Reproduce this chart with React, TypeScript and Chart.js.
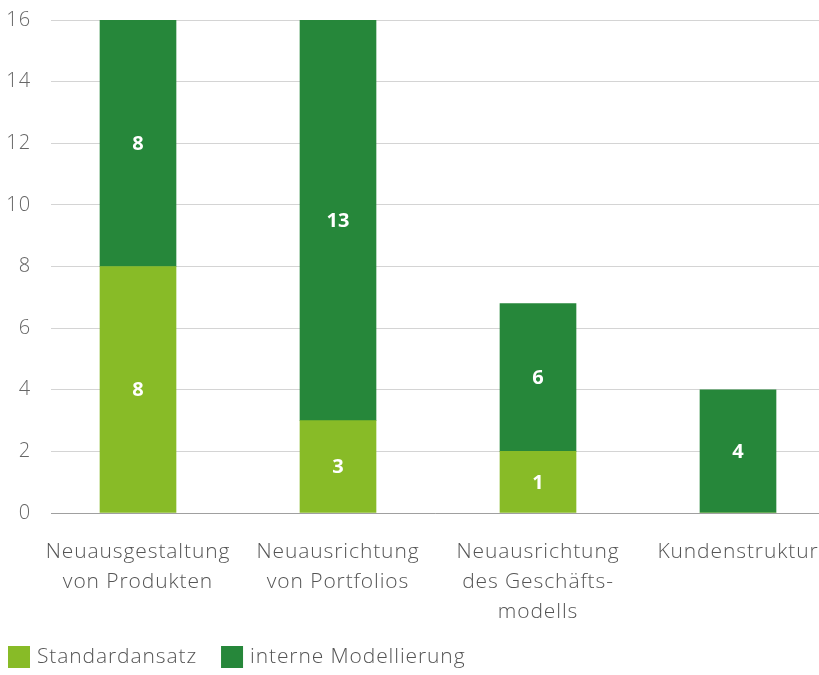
import React, { useEffect, useRef } from "react";
import { Chart, registerables } from "chart.js";

Chart.register(...registerables);

const categories: string[][] = [
  ["Neuausgestaltung", "von Produkten"],
  ["Neuausrichtung", "von Portfolios"],
  ["Neuausrichtung", "des Geschäfts-", "modells"],
  ["Kundenstruktur"],
];
// bar heights
const standardValues = [8, 3, 2, 0];
const interneValues = [8, 13, 4.8, 4];
// value labels printed on the bars
const standardLabels = ["8", "3", "1", ""];
const interneLabels = ["8", "13", "6", "4"];
const seriesNames = ["Standardansatz", "interne Modellierung"];
const yTicks = [0, 2, 4, 6, 8, 10, 12, 14, 16];

const LIGHT = "#88BB27";
const DARK = "#26873A";
const FONT = "'Open Sans', 'Noto Sans', sans-serif";
const SPACING = "0.9px";

const spacingPlugin = {
  id: "spacing",
  beforeUpdate(chart: any) {
    chart.ctx.letterSpacing = SPACING;
  },
  beforeLayout(chart: any) {
    chart.ctx.letterSpacing = SPACING;
  },
  beforeDraw(chart: any) {
    chart.ctx.letterSpacing = SPACING;
  },
};

const valueLabelPlugin = {
  id: "valueLabels",
  afterDatasetsDraw(chart: any) {
    const ctx = chart.ctx;
    const all = [standardLabels, interneLabels];
    ctx.save();
    ctx.letterSpacing = "0px";
    ctx.fillStyle = "#ffffff";
    ctx.font = `700 20px ${FONT}`;
    ctx.textAlign = "center";
    ctx.textBaseline = "middle";
    chart.data.datasets.forEach((_: any, di: number) => {
      const meta = chart.getDatasetMeta(di);
      meta.data.forEach((el: any, i: number) => {
        const txt = all[di][i];
        if (!txt) return;
        ctx.fillText(txt, el.x, (el.y + el.base) / 2 + 1);
      });
    });
    ctx.restore();
  },
};

const legendPlugin = {
  id: "customLegend",
  afterDraw(chart: any) {
    const ctx = chart.ctx;
    ctx.save();
    ctx.letterSpacing = SPACING;
    ctx.font = `300 21px ${FONT}`;
    ctx.textBaseline = "middle";
    ctx.textAlign = "left";
    let x = 8;
    const yc = 657;
    chart.data.datasets.forEach((ds: any) => {
      ctx.fillStyle = ds.backgroundColor;
      ctx.fillRect(x, yc - 11, 22, 22);
      x += 22 + 7;
      ctx.fillStyle = "#555555";
      ctx.fillText(ds.label, x, yc);
      x += ctx.measureText(ds.label).width + 24;
    });
    ctx.restore();
  },
};

export default function App() {
  const ref = useRef<HTMLCanvasElement>(null);
  useEffect(() => {
    if (!ref.current) return;
    const chart = new Chart(ref.current, {
      type: "bar",
      data: {
        datasets: [
          {
            label: seriesNames[0],
            data: categories.map((_, i) => ({ x: i, y: standardValues[i] })),
            backgroundColor: LIGHT,
            barThickness: 76,
          },
          {
            label: seriesNames[1],
            data: categories.map((_, i) => ({ x: i, y: interneValues[i] })),
            backgroundColor: DARK,
            barThickness: 76,
          },
        ] as any,
      },
      options: {
        animation: false,
        responsive: true,
        maintainAspectRatio: false,
        layout: { padding: { top: 20, bottom: 40, left: 0, right: 0 } },
        plugins: { legend: { display: false }, tooltip: { enabled: false } },
        scales: {
          x: {
            type: "linear",
            stacked: true,
            offset: false,
            min: -0.435,
            max: 3.405,
            afterBuildTicks: (scale: any) => {
              scale.ticks = categories.map((_, i) => ({ value: i }));
            },
            afterFit: (scale: any) => {
              scale.height = 122;
              scale.paddingLeft = 0;
              scale.paddingRight = 0;
            },
            grid: { display: false },
            border: { display: true, color: "#a0a0a0", width: 1 },
            ticks: {
              autoSkip: false,
              maxRotation: 0,
              padding: 16,
              color: "#555555",
              font: { family: FONT, size: 21, weight: "300" as any, lineHeight: 1.43 },
              callback: (v: any) => categories[v as number] ?? "",
            },
          },
          y: {
            stacked: true,
            min: 0,
            max: 16,
            afterBuildTicks: (scale: any) => {
              scale.ticks = yTicks.map((v) => ({ value: v }));
            },
            afterFit: (scale: any) => {
              scale.width = 51;
              scale.paddingTop = 0;
              scale.paddingBottom = 0;
            },
            grid: { color: "#d4d4d4", drawTicks: false, lineWidth: 1 },
            border: { display: false },
            ticks: {
              padding: 20,
              color: "#666666",
              font: { family: FONT, size: 20, weight: "300" as any },
            },
          },
        },
      },
      plugins: [spacingPlugin, valueLabelPlugin, legendPlugin],
    });
    return () => chart.destroy();
  }, []);
  return (
    <div style={{ position: "fixed", left: 0, top: 0, width: 819, height: 675 }}>
      <canvas ref={ref} />
    </div>
  );
}
